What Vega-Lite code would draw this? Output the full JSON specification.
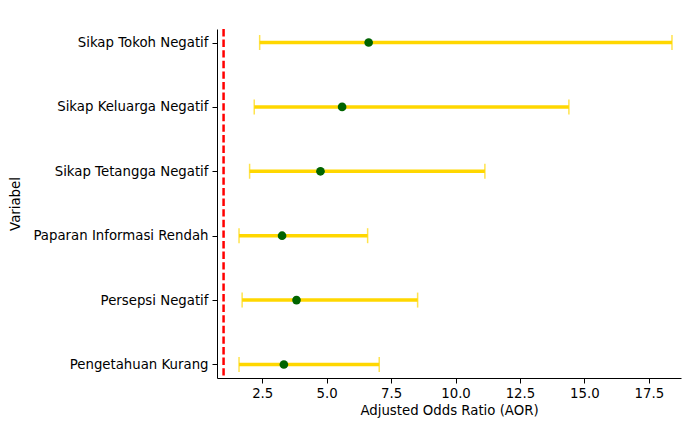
{
  "$schema": "https://vega.github.io/schema/vega-lite/v6.json",
  "width": 464,
  "height": 349,
  "autosize": {"type": "none"},
  "padding": {"left": 217, "top": 29, "right": 5, "bottom": 43},
  "background": "white",
  "config": {
    "view": {"stroke": null},
    "font": "DejaVu Sans",
    "axis": {
      "domainColor": "black",
      "tickColor": "black",
      "labelColor": "black",
      "titleColor": "black",
      "labelFontSize": 13.3,
      "titleFontSize": 13.3,
      "titleFontWeight": "normal",
      "labelFont": "DejaVu Sans",
      "titleFont": "DejaVu Sans",
      "tickSize": 5,
      "grid": false
    }
  },
  "data": {
    "values": [
      {"Variabel": "Sikap Tokoh Negatif", "AOR": 6.63, "low": 2.40, "high": 18.4},
      {"Variabel": "Sikap Keluarga Negatif", "AOR": 5.6, "low": 2.19, "high": 14.4},
      {"Variabel": "Sikap Tetangga Negatif", "AOR": 4.76, "low": 2.01, "high": 11.14},
      {"Variabel": "Paparan Informasi Rendah", "AOR": 3.27, "low": 1.60, "high": 6.59},
      {"Variabel": "Persepsi Negatif", "AOR": 3.83, "low": 1.72, "high": 8.53},
      {"Variabel": "Pengetahuan Kurang", "AOR": 3.34, "low": 1.60, "high": 7.04}
    ]
  },
  "encoding": {
    "y": {
      "field": "Variabel",
      "type": "nominal",
      "sort": null,
      "scale": {"type": "point", "padding": 0.21},
      "axis": {"title": "Variabel", "labelPadding": 4, "titlePadding": 10}
    }
  },
  "layer": [
    {
      "data": {"values": [{"ref": 1}]},
      "mark": {"type": "rule", "color": "#FF0000", "strokeDash": [7.4, 3.2], "strokeWidth": 2.5},
      "encoding": {
        "x": {"field": "ref", "type": "quantitative", "scale": {"domain": [0.745, 18.75], "nice": false, "zero": false}},
        "y": null
      }
    },
    {
      "mark": {"type": "rule", "color": "#FFD700", "strokeWidth": 3.5},
      "encoding": {
        "x": {
          "field": "low",
          "type": "quantitative",
          "scale": {"domain": [0.745, 18.75], "nice": false, "zero": false},
          "axis": {"values": [2.5, 5, 7.5, 10, 12.5, 15, 17.5], "format": ".1f", "title": "Adjusted Odds Ratio (AOR)", "labelPadding": 3, "titlePadding": 4}
        },
        "x2": {"field": "high"}
      }
    },
    {
      "mark": {"type": "tick", "color": "#FFD700", "size": 15, "thickness": 1.5, "orient": "vertical"},
      "encoding": {"x": {"field": "low", "type": "quantitative"}}
    },
    {
      "mark": {"type": "tick", "color": "#FFD700", "size": 15, "thickness": 1.5, "orient": "vertical"},
      "encoding": {"x": {"field": "high", "type": "quantitative"}}
    },
    {
      "mark": {"type": "circle", "color": "#006400", "size": 75, "opacity": 1},
      "encoding": {"x": {"field": "AOR", "type": "quantitative"}}
    }
  ]
}
